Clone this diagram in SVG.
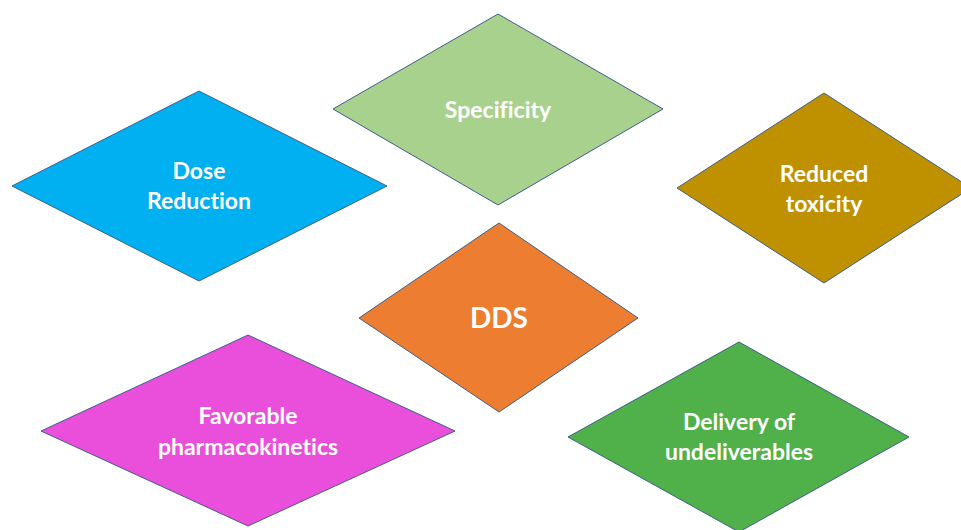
<svg xmlns="http://www.w3.org/2000/svg" width="961" height="530" viewBox="0 0 961 530">
  <style>
    .dia { stroke: #3D5F8A; stroke-width: 1; }
    .lbl { font-family: Lato, "Open Sans", "Liberation Sans", sans-serif; font-weight: bold; fill: #ffffff; text-anchor: middle; font-size: 23px; font-variant-ligatures: none; }
    .big { font-size: 28px; }
  </style>
  <rect width="961" height="530" fill="#ffffff"/>
  <g id="specificity">
    <polygon class="dia" fill="#A9D18E" points="498,14 663,109 498,205 333,109"/>
    <text class="lbl" x="498" y="118">Specificity</text>
  </g>
  <g id="dose-reduction">
    <polygon class="dia" fill="#00B0F0" points="199,91 387,186 199,281 12,186"/>
    <text class="lbl" x="199" y="179">Dose</text>
    <text class="lbl" x="199" y="209">Reduction</text>
  </g>
  <g id="reduced-toxicity">
    <polygon class="dia" fill="#BF9000" points="824,93 971,188 824,283 677,188"/>
    <text class="lbl" x="824" y="182">Reduced</text>
    <text class="lbl" x="824" y="212">toxicity</text>
  </g>
  <g id="dds">
    <polygon class="dia" fill="#ED7D31" points="499,223 638,318 499,412 359,318"/>
    <text class="lbl big" x="499" y="328">DDS</text>
  </g>
  <g id="favorable-pk">
    <polygon class="dia" fill="#EA4FDB" points="248,335 455,431 248,526 41,431"/>
    <text class="lbl" x="248" y="424">Favorable</text>
    <text class="lbl" x="248" y="455">pharmacokinetics</text>
  </g>
  <g id="delivery">
    <polygon class="dia" fill="#50B04A" points="739,342 909,437 739,532 568,437"/>
    <text class="lbl" x="739" y="430">Delivery of</text>
    <text class="lbl" x="739" y="460">undeliverables</text>
  </g>
  <g id="connectors"></g>
</svg>
